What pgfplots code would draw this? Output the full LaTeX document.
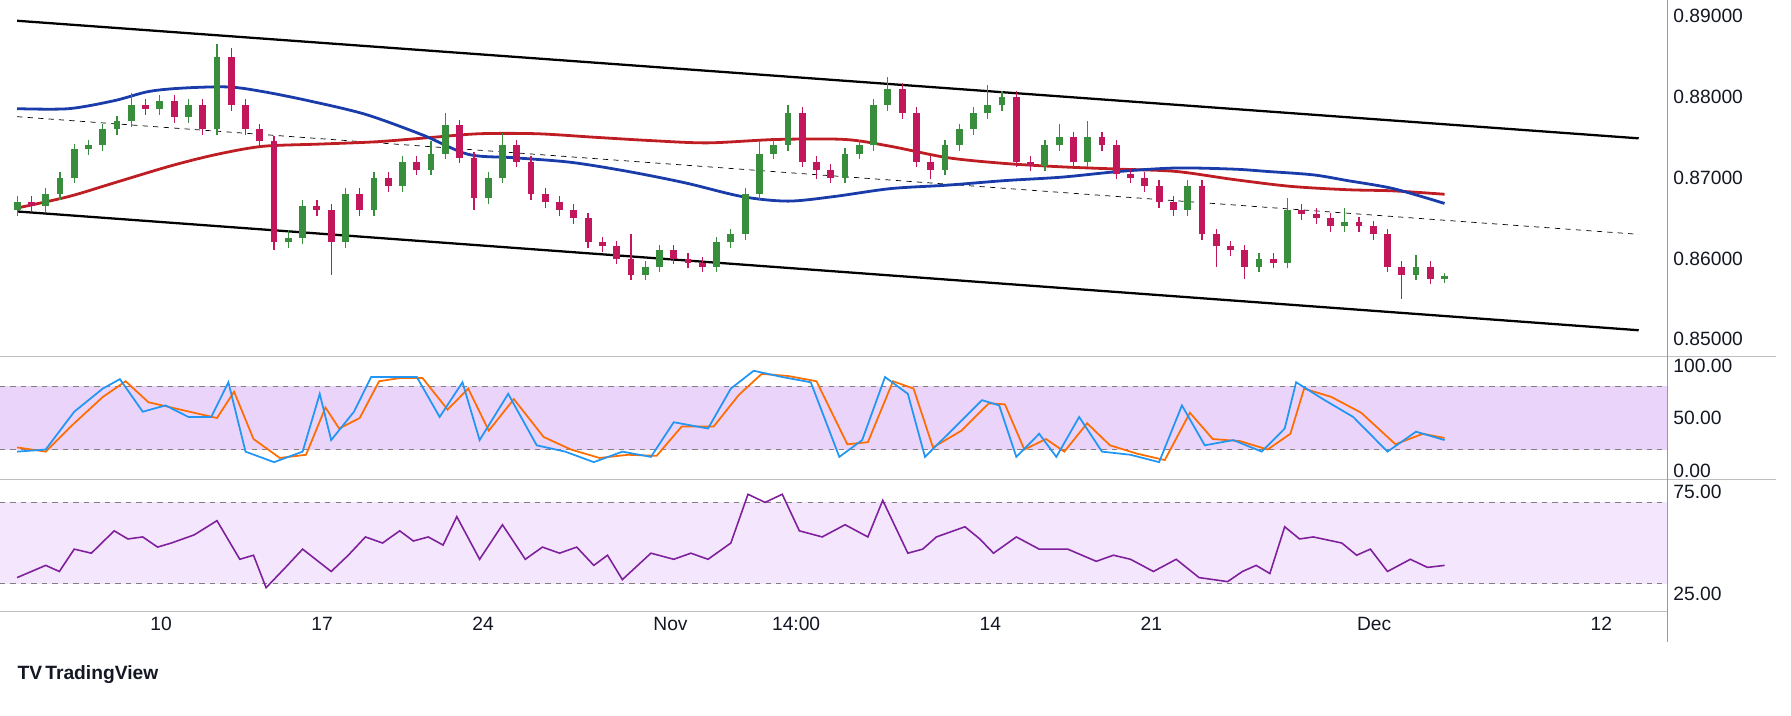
\documentclass[border=0pt]{standalone}
\usepackage{pgfplots}
\pgfplotsset{compat=1.18}
\usepackage{pgfplotstable}
\usepackage{fontspec}
\setmainfont{Liberation Sans}
\definecolor{upc}{RGB}{56,142,60}
\definecolor{dnc}{RGB}{194,24,91}
\definecolor{tvtext}{RGB}{19,23,34}
\definecolor{gridc}{RGB}{190,190,195}
\definecolor{stochfill}{RGB}{234,212,250}
\definecolor{rsifill}{RGB}{244,230,252}
\definecolor{kc}{RGB}{33,150,243}
\definecolor{dc}{RGB}{255,109,0}
\definecolor{rsic}{RGB}{126,31,155}
\definecolor{bluema}{RGB}{25,60,170}
\definecolor{redma}{RGB}{190,30,35}
\pgfplotstableread{
o h l c
.8660 .8677 .8653 .8670
.8670 .8677 .8658 .8665
.8665 .8687 .8658 .8680
.8680 .8707 .8673 .8700
.8700 .8742 .8693 .8735
.8735 .8747 .8728 .8740
.8740 .8767 .8733 .8760
.8760 .8777 .8753 .8770
.8770 .8805 .8763 .8790
.8790 .8797 .8778 .8785
.8785 .8802 .8778 .8795
.8795 .8802 .8768 .8775
.8775 .8797 .8768 .8790
.8790 .8797 .8753 .8760
.8760 .8865 .8753 .8850
.8850 .8860 .8783 .8790
.8790 .8797 .8753 .8760
.8760 .8767 .8738 .8745
.8745 .8752 .8610 .8620
.8620 .8635 .8613 .8625
.8625 .8672 .8618 .8665
.8665 .8672 .8653 .8660
.8660 .8667 .8580 .8620
.8620 .8687 .8613 .8680
.8680 .8687 .8653 .8660
.8660 .8707 .8653 .8700
.8700 .8707 .8683 .8690
.8690 .8727 .8683 .8720
.8720 .8727 .8703 .8710
.8710 .8745 .8703 .8730
.8730 .8780 .8723 .8765
.8765 .8772 .8718 .8725
.8725 .8732 .8660 .8675
.8675 .8707 .8668 .8700
.8700 .8755 .8693 .8740
.8740 .8747 .8713 .8720
.8720 .8727 .8673 .8680
.8680 .8687 .8663 .8670
.8670 .8677 .8653 .8660
.8660 .8667 .8643 .8650
.8650 .8657 .8613 .8620
.8620 .8627 .8608 .8615
.8615 .8622 .8593 .8600
.8600 .8630 .8573 .8580
.8580 .8597 .8573 .8590
.8590 .8617 .8583 .8610
.8610 .8617 .8593 .8600
.8600 .8607 .8588 .8595
.8595 .8602 .8583 .8590
.8590 .8627 .8583 .8620
.8620 .8637 .8613 .8630
.8630 .8687 .8623 .8680
.8680 .8745 .8673 .8730
.8730 .8747 .8723 .8740
.8740 .8790 .8733 .8780
.8780 .8787 .8713 .8720
.8720 .8727 .8698 .8710
.8710 .8717 .8693 .8700
.8700 .8737 .8693 .8730
.8730 .8747 .8723 .8740
.8740 .8797 .8733 .8790
.8790 .8825 .8783 .8810
.8810 .8817 .8773 .8780
.8780 .8787 .8713 .8720
.8720 .8727 .8698 .8710
.8710 .8747 .8703 .8740
.8740 .8767 .8733 .8760
.8760 .8787 .8753 .8780
.8780 .8815 .8773 .8790
.8790 .8807 .8783 .8800
.8800 .8807 .8713 .8720
.8720 .8727 .8708 .8715
.8715 .8747 .8708 .8740
.8740 .8767 .8733 .8750
.8750 .8757 .8713 .8720
.8720 .8770 .8713 .8750
.8750 .8757 .8733 .8740
.8740 .8747 .8698 .8705
.8705 .8712 .8693 .8700
.8700 .8707 .8683 .8690
.8690 .8697 .8663 .8670
.8670 .8677 .8653 .8660
.8660 .8697 .8653 .8690
.8690 .8697 .8623 .8630
.8630 .8637 .8590 .8615
.8615 .8622 .8603 .8610
.8610 .8617 .8575 .8590
.8590 .8607 .8583 .8600
.8600 .8607 .8588 .8595
.8595 .8675 .8588 .8660
.8660 .8667 .8648 .8655
.8655 .8662 .8643 .8650
.8650 .8657 .8633 .8640
.8640 .8662 .8633 .8645
.8645 .8652 .8633 .8640
.8640 .8647 .8623 .8630
.8630 .8637 .8583 .8590
.8590 .8597 .8550 .8580
.8580 .8605 .8573 .8590
.8590 .8597 .8568 .8575
.8575 .8582 .8570 .8578
}\candles
\pgfplotsset{
  tvax/.style={scale only axis, width=33.52cm, xmin=0, xmax=1460,
    axis line style={draw=none}, major tick length=0pt,
    yticklabel pos=right, xtick=\empty,
    ticklabel style={font=\fontsize{11}{13}\selectfont, text=tvtext},
    /pgf/number format/assume math mode=true,
    clip=true},
  cndl/.style 2 args={draw=none, no markers, forget plot,
    error bars/.cd, y dir=plus, y explicit, error mark=none,
    error bar style={draw=#2, line width=#1}},
}
\begin{document}
\begin{tikzpicture}[x=0.02296cm, y=-0.02296cm]
\useasboundingbox (0,0) rectangle (1568,626);
% main
\begin{axis}[tvax, at={(0cm,0cm)}, anchor=north west, height=7.164cm,
  ymin=0.8479, ymax=0.8920, ytick={0.85,0.86,0.87,0.88,0.89},
  yticklabel style={/pgf/number format/.cd, fixed, fixed zerofill, precision=5}]
\addplot[black, line width=1.3pt] coordinates {(15,0.88943) (1435,0.87488)};
\addplot[black, line width=1.3pt] coordinates {(15,0.86583) (1435,0.85113)};
\addplot[black, thin, dashed] coordinates {(15,0.87756) (1435,0.86300)};
\addplot[redma, line width=1.6pt, smooth] coordinates {(15,.86626)(60,.86767)(100,.86937)(150,.87149)(190,.87290)(230,.87389)(280,.87417)(330,.87446)(380,.87502)(420,.87545)(470,.87545)(520,.87502)(570,.87460)(620,.87432)(680,.87474)(740,.87474)(780,.87389)(830,.87248)(880,.87177)(930,.87135)(980,.87107)(1030,.87078)(1080,.86979)(1130,.86894)(1180,.86852)(1220,.86838)(1265,.86796)};
\addplot[bluema, line width=1.6pt, smooth] coordinates {(15,.87855)(60,.87855)(100,.87954)(130,.88067)(160,.88110)(200,.88124)(230,.88067)(270,.87954)(320,.87785)(370,.87530)(410,.87290)(450,.87248)(500,.87191)(550,.87078)(600,.86937)(650,.86767)(690,.86711)(730,.86767)(780,.86866)(830,.86909)(880,.86965)(930,.87008)(980,.87078)(1030,.87121)(1080,.87107)(1110,.87078)(1150,.87036)(1180,.86965)(1220,.86866)(1265,.86682)};
% wicks
\addplot[restrict expr to domain={\thisrow{c}-\thisrow{o}}{0:1}, cndl={0.7pt}{upc}]
  table[x expr=15+12.5*\coordindex, y=l, y error expr=\thisrow{h}-\thisrow{l}] {\candles};
\addplot[restrict expr to domain={\thisrow{o}-\thisrow{c}}{0.00001:1}, cndl={0.7pt}{dnc}]
  table[x expr=15+12.5*\coordindex, y=l, y error expr=\thisrow{h}-\thisrow{l}] {\candles};
% bodies
\addplot[restrict expr to domain={\thisrow{c}-\thisrow{o}}{0:1}, cndl={3.9pt}{upc}]
  table[x expr=15+12.5*\coordindex, y=o, y error expr=\thisrow{c}-\thisrow{o}] {\candles};
\addplot[restrict expr to domain={\thisrow{o}-\thisrow{c}}{0.00001:1}, cndl={3.9pt}{dnc}]
  table[x expr=15+12.5*\coordindex, y=c, y error expr=\thisrow{o}-\thisrow{c}] {\candles};
\end{axis}
% stochastic
\begin{axis}[tvax, at={(0cm,-7.164cm)}, anchor=north west, height=2.480cm,
  ymin=-8.7, ymax=108.7, ytick={0,50,100},
  yticklabel style={/pgf/number format/.cd, fixed, fixed zerofill, precision=2}]
\fill[stochfill] (axis cs:0,20) rectangle (axis cs:1460,80);
\draw[gray, dashed, thin] (axis cs:0,20) -- (axis cs:1460,20);
\draw[gray, dashed, thin] (axis cs:0,80) -- (axis cs:1460,80);
\addplot[dc, line width=1pt] coordinates {(15,22)(40,18)(65,45)(90,70)(110,85)(130,65)(150,60)(170,55)(190,50)(205,75)(222,30)(245,12)(268,15)(285,60)(297,40)(315,50)(332,85)(350,88)(370,88)(392,58)(410,78)(428,38)(450,68)(476,32)(500,20)(525,12)(550,15)(575,14)(597,42)(625,42)(647,72)(667,92)(690,90)(715,85)(742,25)(760,27)(782,85)(800,78)(817,22)(842,38)(866,64)(880,63)(897,20)(916,30)(932,18)(952,45)(972,24)(996,16)(1020,10)(1042,55)(1062,30)(1086,28)(1110,20)(1130,35)(1142,78)(1166,70)(1192,55)(1222,25)(1246,35)(1265,31)};
\addplot[kc, line width=1pt] coordinates {(15,18)(40,20)(65,56)(90,78)(105,87)(125,56)(145,62)(165,51)(185,51)(200,84)(215,18)(240,8)(265,18)(280,73)(290,29)(310,56)(325,89)(345,89)(365,89)(385,51)(405,84)(420,29)(445,73)(470,24)(495,18)(520,8)(545,18)(570,13)(590,46)(620,40)(640,78)(660,95)(685,89)(710,84)(735,13)(755,29)(775,89)(795,73)(810,13)(835,40)(860,67)(875,62)(890,13)(910,35)(925,13)(945,51)(965,18)(990,15)(1015,8)(1035,62)(1055,24)(1080,29)(1105,18)(1125,40)(1135,84)(1160,67)(1185,51)(1215,18)(1240,37)(1265,29)};
\end{axis}
% RSI
\begin{axis}[tvax, at={(0cm,-9.643cm)}, anchor=north west, height=2.594cm,
  ymin=17.7, ymax=81.2, ytick={25,75},
  yticklabel style={/pgf/number format/.cd, fixed, fixed zerofill, precision=2}]
\fill[rsifill] (axis cs:0,30) rectangle (axis cs:1460,70);
\draw[gray, dashed, thin] (axis cs:0,30) -- (axis cs:1460,30);
\draw[gray, dashed, thin] (axis cs:0,70) -- (axis cs:1460,70);
\addplot[rsic, line width=0.9pt] coordinates {(15,33)(40,39)(52,36)(65,47)(80,45)(100,56)(112,52)(125,53)(138,48)(150,50)(170,54)(190,61)(210,42)(222,44)(233,28)(250,38)(265,47)(290,36)(305,44)(320,53)(335,50)(350,56)(362,51)(375,53)(388,49)(400,63)(420,42)(440,59)(460,42)(475,48)(490,45)(505,48)(520,39)(532,44)(545,32)(570,45)(590,42)(605,45)(620,42)(640,50)(655,74)(670,70)(685,74)(700,56)(720,53)(740,59)(760,53)(773,71)(795,45)(808,47)(820,53)(845,58)(858,52)(870,45)(890,53)(910,47)(935,47)(960,41)(975,44)(990,42)(1010,36)(1030,42)(1050,33)(1075,31)(1088,36)(1100,39)(1112,35)(1125,58)(1138,52)(1150,53)(1175,50)(1188,44)(1200,47)(1215,36)(1235,42)(1250,38)(1265,39)};
\end{axis}
% separators
\draw[gridc] (0,312) -- (1555,312);
\draw[gridc] (0,420) -- (1555,420);
\draw[gridc] (0,535) -- (1460,535);
\draw[gray!80] (1460,0) -- (1460,562);
% x labels
\foreach \xx/\lab in {141/10,282/17,423/24,587/Nov,697/14:00,867/14,1008/21,1203/Dec,1402/12}
  \node[font=\fontsize{11}{13}\selectfont, text=tvtext] at (\xx,546) {\lab};
\node[anchor=west, font=\fontsize{11}{13}\selectfont, text=tvtext] at (10,591) {\textbf{TV}\,\textbf{TradingView}};
\end{tikzpicture}
\end{document}
